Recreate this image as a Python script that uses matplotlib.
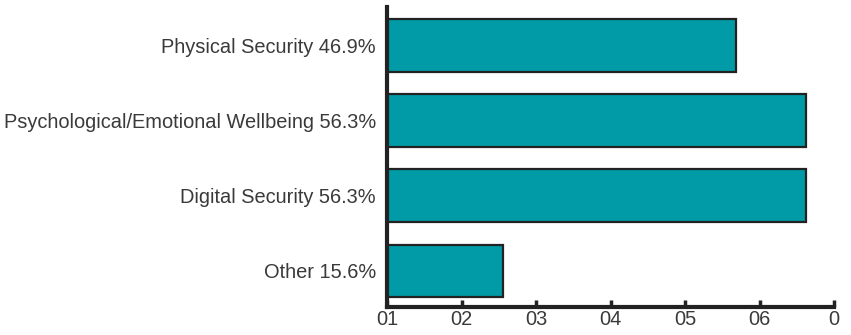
import matplotlib
matplotlib.use("Agg")
import matplotlib.pyplot as plt

categories = ["Other 15.6%", "Digital Security 56.3%",
              "Psychological/Emotional Wellbeing 56.3%", "Physical Security 46.9%"]
values = [15.6, 56.3, 56.3, 46.9]
tick_values = [0, 10, 20, 30, 40, 50, 60]
tick_labels = ["01", "02", "03", "04", "05", "06", "0"]

plt.rcParams['font.family'] = ['Liberation Sans', 'DejaVu Sans']

fig = plt.figure(figsize=(8.51, 3.35), dpi=100)
ax = fig.add_axes([387 / 851, 28 / 335, (834 - 387) / 851, 300 / 335])

ax.barh(range(len(values)), values, height=0.7, color="#009ba6",
        edgecolor="#222222", linewidth=1.6)

ax.set_xlim(0, 60)
ax.set_ylim(-0.48, 3.51)
ax.set_yticks(range(len(categories)))
ax.set_yticklabels(categories, fontsize=14.4, color="#3a3a3a")
ax.set_xticks(tick_values)
ax.set_xticklabels(tick_labels, fontsize=14.4, color="#3a3a3a")

for side in ["top", "right"]:
    ax.spines[side].set_visible(False)
for side in ["left", "bottom"]:
    ax.spines[side].set_linewidth(3)
    ax.spines[side].set_color("#222222")

ax.tick_params(axis="y", length=0, pad=8)
ax.tick_params(axis="x", direction="in", length=5, width=2.5, color="#222222", pad=2)

fig.savefig("out.png", dpi=100)
